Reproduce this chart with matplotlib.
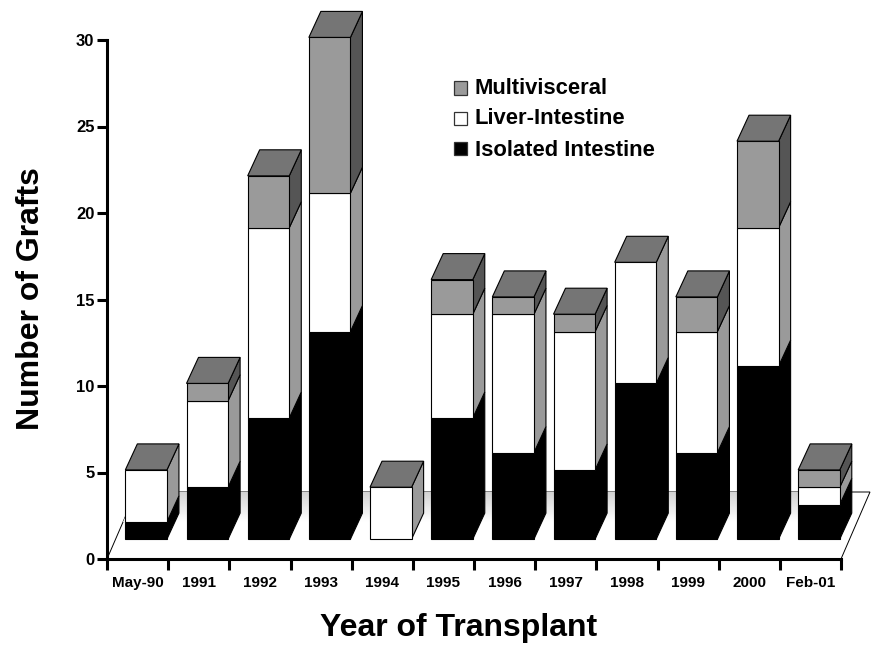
import matplotlib
matplotlib.use("Agg")
import matplotlib.pyplot as plt
from matplotlib.patches import Polygon, Rectangle
import numpy as np

plt.rcParams['font.family'] = ['Liberation Sans', 'DejaVu Sans']
plt.rcParams['font.weight'] = 'bold'

years = ["May-90", "1991", "1992", "1993", "1994", "1995", "1996", "1997", "1998", "1999", "2000", "Feb-01"]
# tops of the black part, then heights of the two parts above it
isolated = [2, 4, 8, 13, 1, 8, 6, 5, 10, 6, 11, 3]
liver = [3, 5, 11, 8, 3, 6, 8, 8, 7, 7, 8, 1]
multi = [0, 1, 3, 9, 0, 2, 1, 1, 0, 2, 5, 1]
y_ticks = [0, 5, 10, 15, 20, 25, 30]

W, H = 874, 645
fig = plt.figure(figsize=(W / 100, H / 100), dpi=100)
# axes box in pixels: x 107-841, y 559-40
ax = fig.add_axes([107 / W, 1 - 559 / H, (841 - 107) / W, (559 - 40) / H])
ax.set_xlim(0, 12)
ax.set_ylim(0, 30)

px_x = 12 / 734
px_y = 30 / 519
dx = 12 * px_x
dy = 26 * px_y
lift = 0.15
floor = 1
bar_left = 0.30
bar_w = 0.68


def block(i, y0, y1, front, side, top=None):
    x0 = i + bar_left
    x1 = x0 + bar_w
    y0 = y0 + lift
    y1 = y1 + lift
    edge = "black"
    lw = 0.8
    ax.add_patch(Polygon([(x1, y0), (x1 + dx, y0 + dy), (x1 + dx, y1 + dy), (x1, y1)],
                         fc=side, ec=edge, lw=lw, clip_on=False, zorder=3 + i))
    ax.add_patch(Rectangle((x0, y0), bar_w, y1 - y0, fc=front, ec=edge, lw=lw, clip_on=False, zorder=3 + i))
    if top is not None:
        ax.add_patch(Polygon([(x0, y1), (x0 + dx, y1 + dy), (x1 + dx, y1 + dy), (x1, y1)],
                             fc=top, ec=edge, lw=lw, clip_on=False, zorder=3 + i))


# floor of the chart
fl_x = 29 * px_x
fl_y = 67 * px_y
ax.add_patch(Polygon([(0, 0), (fl_x, fl_y), (12 + fl_x, fl_y), (12, 0)], fc="white", ec="black", lw=0.7,
                     clip_on=False, zorder=1))
grad = np.linspace(0.82, 1, 64).reshape(-1, 1)
shade = ax.imshow(grad, cmap="gray", vmin=0, vmax=1, aspect="auto", origin="upper", zorder=1.5,
                  extent=(0, 12 + fl_x, fl_y - 30 * px_y, fl_y), clip_on=True)
shade.set_clip_path(Polygon([(0, 0), (fl_x, fl_y), (12 + fl_x, fl_y), (12, 0)], transform=ax.transData))
ax.set_xlim(0, 12)
ax.set_ylim(0, 30)

for i in range(len(years)):
    t1 = isolated[i]
    t2 = t1 + liver[i]
    t3 = t2 + multi[i]
    if t1 > floor:
        block(i, floor, t1, "black", "black", "#757575" if t1 == t3 else None)
    if liver[i] > 0:
        block(i, t1, t2, "white", "#9a9a9a", "#757575" if t2 == t3 else None)
    if multi[i] > 0:
        block(i, t2, t3, "#9a9a9a", "#555555", "#757575")

for s in ["top", "right"]:
    ax.spines[s].set_visible(False)
for s in ["left", "bottom"]:
    ax.spines[s].set_linewidth(2.2)
    ax.spines[s].set_zorder(30)

ax.set_yticks(y_ticks)
ax.set_xticks(range(13))
ax.set_xticklabels([])
ax.tick_params(axis="y", length=7, width=2.2, labelsize=12, pad=2)
ax.tick_params(axis="x", length=8, width=2.2)

for i, label in enumerate(years):
    ax.text(i + 0.5, -1.4, label, ha="center", va="center", fontsize=11, clip_on=False)

fig.text(459 / W, 1 - 628 / H, "Year of Transplant", ha="center", va="center", fontsize=23)
fig.text(31 / W, 1 - 299 / H, "Number of Grafts", ha="center", va="center", rotation=90, fontsize=23)

legend_names = ["Multivisceral", "Liver-Intestine", "Isolated Intestine"]
legend_colors = ["#9a9a9a", "white", "black"]
legend_box_y = [88, 118.5, 148.5]
legend_text_y = [88, 119, 150]
for name, color, by, ty in zip(legend_names, legend_colors, legend_box_y, legend_text_y):
    fig.patches.append(Rectangle((454 / W, 1 - (by + 6.5) / H), 13 / W, 13 / H, fc=color, ec="#333333", lw=0.9,
                                 transform=fig.transFigure))
    fig.text(475 / W, 1 - ty / H, name, ha="left", va="center", fontsize=15.8)

fig.savefig("out.png", dpi=100)
